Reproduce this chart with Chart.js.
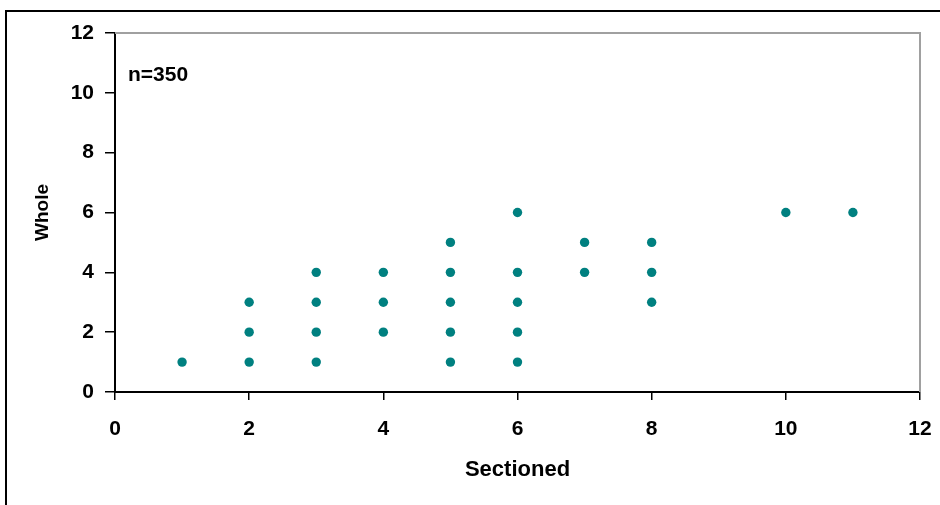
<!DOCTYPE html>
<html>
<head>
<meta charset="utf-8">
<script src="https://cdn.jsdelivr.net/npm/chart.js@4"></script>
<style>
  html, body { margin: 0; padding: 0; background: #fff; }
  #wrap { width: 940px; height: 505px; }
</style>
</head>
<body>
<div id="wrap"><canvas id="chart"></canvas></div>
<script>
// sectioned vs whole counts
const sectioned = [1, 2, 2, 2, 3, 3, 3, 3, 4, 4, 4, 5, 5, 5, 5, 5, 6, 6, 6, 6, 6, 7, 7, 8, 8, 8, 10, 11];
const whole     = [1, 1, 2, 3, 1, 2, 3, 4, 2, 3, 4, 1, 2, 3, 4, 5, 1, 2, 3, 4, 6, 4, 5, 3, 4, 5, 6, 6];
const noteText = 'n=350';
const xTitle = 'Sectioned';
const yTitle = 'Whole';

const points = sectioned.map((x, i) => ({ x: x, y: whole[i] }));

const tickFont = { family: 'Liberation Sans', size: 21, weight: 'bold' };

// frame lines, outer border and the n= note
const extras = {
  id: 'extras',
  afterDraw(chart) {
    const ctx = chart.ctx;
    const a = chart.chartArea;
    ctx.save();
    // gray top and right edges of plot area
    ctx.strokeStyle = '#a0a0a0';
    ctx.lineWidth = 2;
    ctx.beginPath();
    ctx.moveTo(a.left, a.top);
    ctx.lineTo(a.right, a.top);
    ctx.lineTo(a.right, a.bottom);
    ctx.stroke();
    // outer black border (cropped on right and bottom)
    ctx.strokeStyle = '#000';
    ctx.lineWidth = 2;
    ctx.beginPath();
    ctx.moveTo(6, 505);
    ctx.lineTo(6, 11);
    ctx.lineTo(940, 11);
    ctx.stroke();
    // note
    ctx.fillStyle = '#000';
    ctx.font = 'bold 21px "Liberation Sans"';
    ctx.textBaseline = 'middle';
    ctx.textAlign = 'left';
    ctx.fillText(noteText, 128, 75);
    ctx.restore();
  }
};

new Chart(document.getElementById('chart'), {
  type: 'scatter',
  data: {
    datasets: [{
      data: points,
      backgroundColor: '#008080',
      borderColor: '#008080',
      borderWidth: 0,
      pointRadius: 4.7,
      pointHoverRadius: 4.7,
    }],
  },
  options: {
    responsive: true,
    maintainAspectRatio: false,
    animation: false,
    layout: { padding: { left: 0, top: 33, right: 20, bottom: 0 } },
    plugins: { legend: { display: false }, tooltip: { enabled: false } },
    scales: {
      x: {
        type: 'linear',
        min: 0,
        max: 12,
        afterFit(scale) {
          scale.height = 113;
          scale.paddingLeft = 0;
          scale.paddingRight = 0;
        },
        ticks: { stepSize: 2, color: '#000', font: tickFont, padding: 17, maxRotation: 0 },
        grid: { drawOnChartArea: false, tickLength: 8, tickColor: '#000', lineWidth: 1.5 },
        border: { color: '#000', width: 2 },
        title: {
          display: true,
          text: xTitle,
          color: '#000',
          font: { family: 'Liberation Sans', size: 22, weight: 'bold' },
          padding: { top: 0, bottom: 22 },
        },
      },
      y: {
        type: 'linear',
        min: 0,
        max: 12,
        afterFit(scale) {
          scale.width = 115;
          scale.paddingTop = 0;
          scale.paddingBottom = 0;
        },
        ticks: { stepSize: 2, color: '#000', font: tickFont, padding: 11 },
        grid: { drawOnChartArea: false, tickLength: 10, tickColor: '#000', lineWidth: 1.5 },
        border: { color: '#000', width: 2 },
        title: {
          display: true,
          text: yTitle,
          color: '#000',
          font: { family: 'Liberation Sans', size: 19, weight: 'bold' },
          padding: { top: 31, bottom: 0 },
        },
      },
    },
  },
  plugins: [extras],
});
</script>
</body>
</html>
